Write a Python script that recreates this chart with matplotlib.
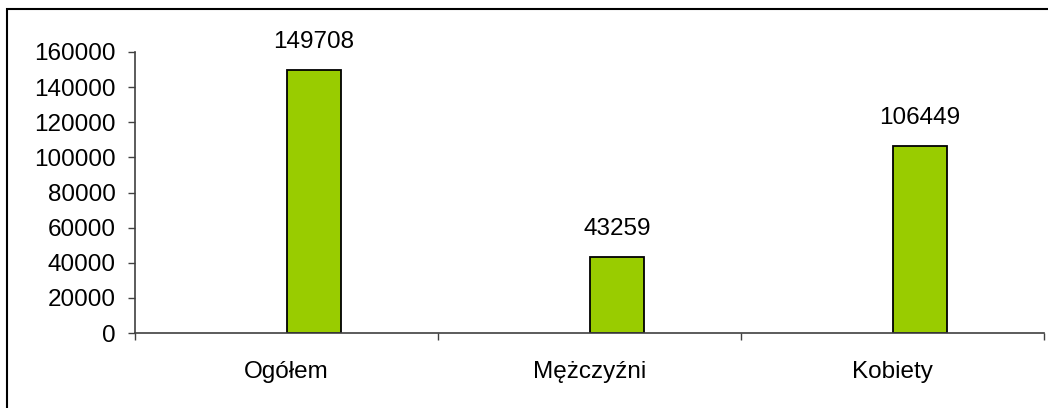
import numpy as np
import matplotlib
matplotlib.use("Agg")
import matplotlib.pyplot as plt
from matplotlib.patches import Rectangle

categories = ["Ogółem", "Mężczyźni", "Kobiety"]
values = [149708, 43259, 106449]
yticks = [0, 20000, 40000, 60000, 80000, 100000, 120000, 140000, 160000]

plt.rcParams['font.family'] = ['Liberation Sans', 'DejaVu Sans']

fig = plt.figure(figsize=(10.48, 4.08), dpi=100)
ax = fig.add_axes([135/1048, 1 - 333/408, (1044 - 135)/1048, (333 - 52)/408])

x = np.arange(len(categories))
bars = ax.bar(x, values, width=0.18, align='edge', color='#99CC00',
              edgecolor='black', linewidth=1.3)

for b, v in zip(bars, values):
    ax.annotate(str(v), (b.get_x() + b.get_width()/2, v), xytext=(0, 12),
                textcoords='offset points', ha='center', va='bottom', fontsize=17.5)

ax.set_xlim(-0.5, 2.5)
ax.set_ylim(0, 160000)
ax.set_yticks(yticks)
ax.set_yticklabels([str(t) for t in yticks])
ax.set_xticks(x)
ax.set_xticklabels(categories)
ax.set_xticks([-0.5, 0.5, 1.5, 2.5], minor=True)

ax.tick_params(axis='y', length=5, width=1, color='#404040', pad=9, labelsize=17.5)
ax.tick_params(axis='x', which='major', length=0, pad=20, labelsize=17.5)
ax.tick_params(axis='x', which='minor', length=5, width=1, color='#404040')

for s in ['top', 'right']:
    ax.spines[s].set_visible(False)
for s in ['left', 'bottom']:
    ax.spines[s].set_color('#404040')
    ax.spines[s].set_linewidth(1.2)

# outer chart frame (right and bottom edges fall outside the image)
fig.patches.append(Rectangle((7/1048, -0.1), 2, 1.1 - 9/408, transform=fig.transFigure,
                             fill=False, edgecolor='black', linewidth=1.5))

fig.savefig("out.png", dpi=100)
